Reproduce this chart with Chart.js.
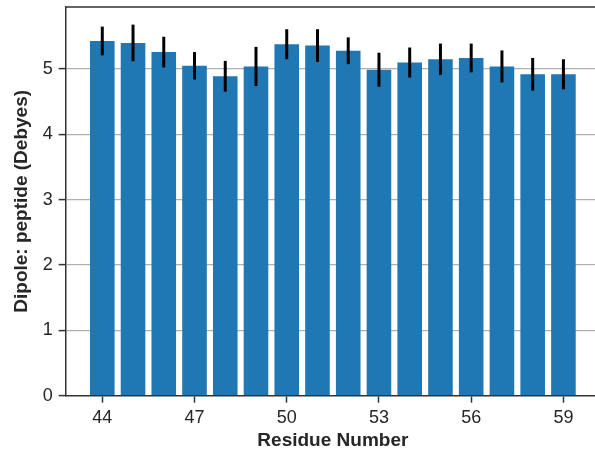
<!DOCTYPE html>
<html>
<head>
<meta charset="utf-8">
<script src="https://cdn.jsdelivr.net/npm/chart.js@4"></script>
<style>
  html, body { margin:0; padding:0; background:#fff; overflow:hidden; }
  #wrap { width:595px; height:455px; overflow:hidden; }
  canvas { display:block; }
</style>
</head>
<body>
<div id="wrap"><canvas id="chart" width="605" height="455"></canvas></div>
<script>
// residue numbers and dipole values (Debyes)
const residues = [44, 45, 46, 47, 48, 49, 50, 51, 52, 53, 54, 55, 56, 57, 58, 59];
const dipole   = [5.43, 5.40, 5.26, 5.05, 4.89, 5.04, 5.38, 5.36, 5.28, 4.99, 5.10, 5.15, 5.17, 5.04, 4.92, 4.92];
const errors   = [0.22, 0.28, 0.235, 0.21, 0.235, 0.30, 0.23, 0.25, 0.205, 0.26, 0.23, 0.24, 0.22, 0.245, 0.25, 0.23];
const xTickLabels = [44, 47, 50, 53, 56, 59];
const yTickLabels = [0, 1, 2, 3, 4, 5];

const FONT = 'Liberation Sans, Arial, Helvetica, sans-serif';
const INK = '#262626';

// black error bars, no caps
const errorBars = {
  id: 'errorBars',
  afterDatasetsDraw(chart) {
    const { ctx, scales: { x, y } } = chart;
    ctx.save();
    ctx.strokeStyle = '#000';
    ctx.lineWidth = 3;
    residues.forEach((r, i) => {
      const px = x.getPixelForValue(r);
      ctx.beginPath();
      ctx.moveTo(px, y.getPixelForValue(dipole[i] + errors[i]));
      ctx.lineTo(px, y.getPixelForValue(dipole[i] - errors[i]));
      ctx.stroke();
    });
    ctx.restore();
  }
};

// top spine (right one falls outside the crop)
const frame = {
  id: 'frame',
  afterDraw(chart) {
    const { ctx, chartArea: a } = chart;
    ctx.save();
    ctx.strokeStyle = '#333';
    ctx.lineWidth = 1.5;
    ctx.beginPath();
    ctx.moveTo(a.left, a.top); ctx.lineTo(a.right, a.top); ctx.lineTo(a.right, a.bottom);
    ctx.stroke();
    ctx.restore();
  }
};

new Chart(document.getElementById('chart'), {
  type: 'bar',
  data: {
    datasets: [{
      data: residues.map((r, i) => ({ x: r, y: dipole[i] })),
      backgroundColor: '#1f77b4',
      borderWidth: 0,
      barPercentage: 0.8,
      categoryPercentage: 1.0
    }]
  },
  options: {
    responsive: false, animation: false, devicePixelRatio: 1,
    layout: { padding: { top: 7, right: 5, left: 0, bottom: 0 } },
    plugins: { legend: { display: false }, tooltip: { enabled: false } },
    scales: {
      x: {
        type: 'linear', offset: false, min: 42.81, max: 60.19,
        afterBuildTicks: (axis) => { axis.ticks = xTickLabels.map(v => ({ value: v })); },
        afterFit: (axis) => { axis.height = 59.3; axis.paddingLeft = 0; axis.paddingRight = 0; },
        grid: { offset: false, drawOnChartArea: false, tickColor: '#333', tickLength: 7, tickWidth: 1.5 },
        border: { color: '#333', width: 1.5 },
        ticks: { color: INK, font: { family: FONT, size: 18 }, padding: 5, maxRotation: 0, autoSkip: false },
        title: { display: true, text: 'Residue Number', color: INK,
                 font: { family: FONT, size: 19, weight: 'bold' }, padding: { top: 0, bottom: 3 } }
      },
      y: {
        min: 0, max: 5.95,
        afterBuildTicks: (axis) => { axis.ticks = yTickLabels.map(v => ({ value: v })); },
        afterFit: (axis) => { axis.width = 65.7; axis.paddingTop = 0; axis.paddingBottom = 0; },
        grid: { color: (c) => c.tick && c.tick.value > 0 ? '#b0b0b0' : 'transparent',
                tickColor: '#333', tickLength: 7, tickWidth: 1.5, lineWidth: 1.2 },
        border: { color: '#333', width: 1.5 },
        ticks: { color: INK, font: { family: FONT, size: 18 }, padding: 6 },
        title: { display: true, text: 'Dipole: peptide (Debyes)', color: INK,
                 font: { family: FONT, size: 19, weight: 'bold' }, padding: { top: 10, bottom: 0 } }
      }
    }
  },
  plugins: [errorBars, frame]
});
</script>
</body>
</html>
